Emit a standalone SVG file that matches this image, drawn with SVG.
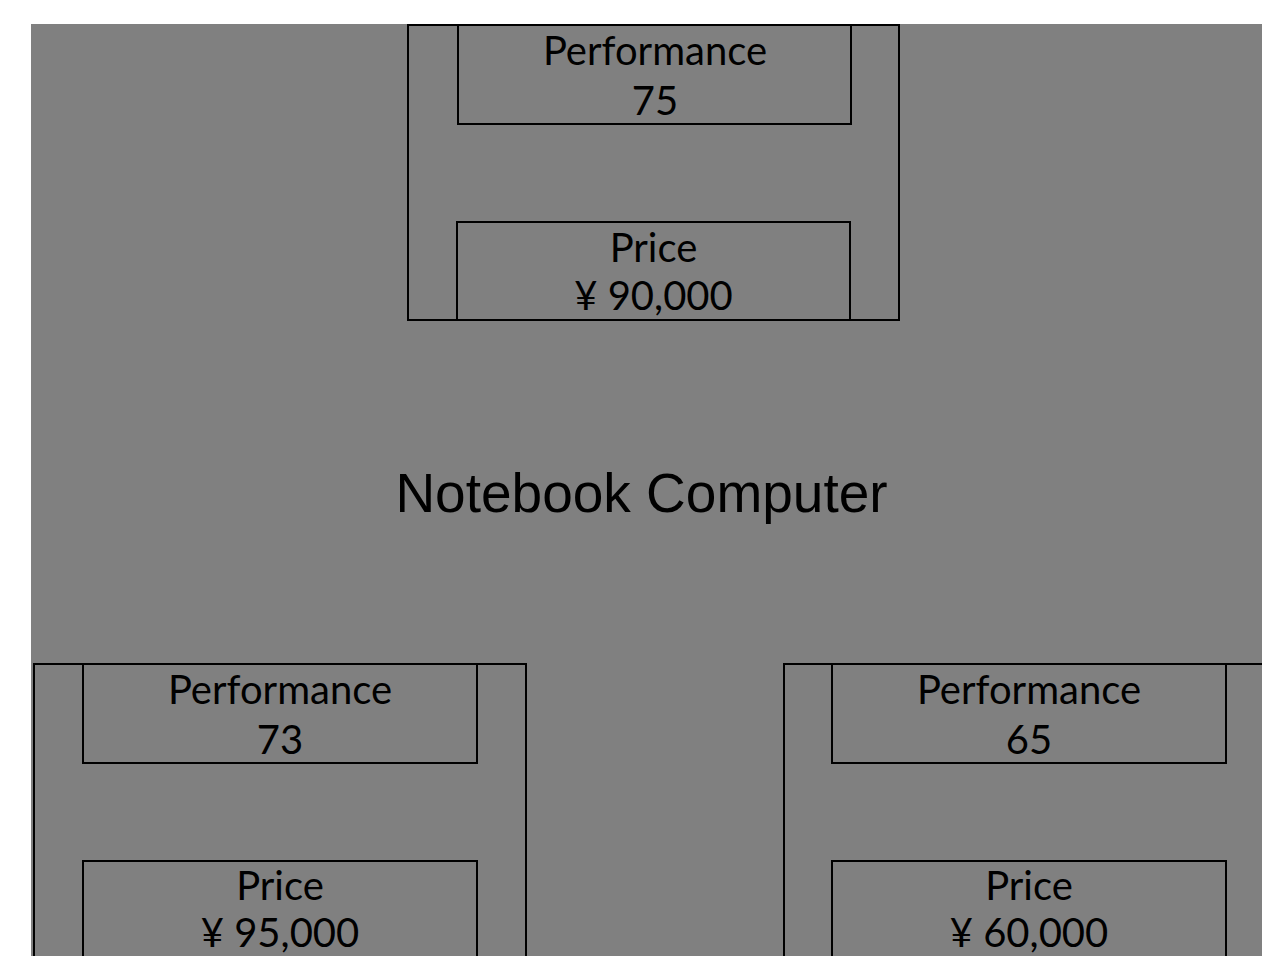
<svg xmlns="http://www.w3.org/2000/svg" width="1262" height="956" viewBox="0 0 1262 956">
<style>
.bg{fill:#808080}
.box{fill:none;stroke:#000;stroke-width:2}
.t{font-family:Lato,"Open Sans",sans-serif;font-size:40px;fill:#000;text-anchor:middle}
.title{font-family:"Liberation Sans",Arial,sans-serif;font-size:55px;fill:#000;text-anchor:middle}
</style>
<rect class="bg" x="31" y="24" width="1231" height="932"/>
<g id="title"><text class="title" x="641.5" y="512">Notebook Computer</text></g>
<g id="connectors"></g>
<g id="top">
<rect class="box" x="408" y="25" width="491" height="295"/>
<g id="top-perf"><rect class="box" x="458" y="25" width="393" height="99"/>
<text class="t" x="655" y="65">Performance</text><text class="t" x="655" y="115">75</text></g>
<g id="top-price"><rect class="box" x="457" y="222" width="393" height="98"/>
<text class="t" x="653.5" y="262">Price</text><text class="t" x="653.5" y="310">¥ 90,000</text></g>
</g>
<g id="left">
<rect class="box" x="34" y="664" width="492" height="300"/>
<g id="left-perf"><rect class="box" x="83" y="664" width="394" height="99"/>
<text class="t" x="280" y="704">Performance</text><text class="t" x="280" y="754">73</text></g>
<g id="left-price"><rect class="box" x="83" y="861" width="394" height="100"/>
<text class="t" x="280" y="900">Price</text><text class="t" x="280" y="947">¥ 95,000</text></g>
</g>
<g id="right">
<rect class="box" x="784" y="664" width="492" height="300"/>
<g id="right-perf"><rect class="box" x="832" y="664" width="394" height="99"/>
<text class="t" x="1029" y="704">Performance</text><text class="t" x="1029" y="754">65</text></g>
<g id="right-price"><rect class="box" x="832" y="861" width="394" height="100"/>
<text class="t" x="1029" y="900">Price</text><text class="t" x="1029" y="947">¥ 60,000</text></g>
</g>
</svg>
